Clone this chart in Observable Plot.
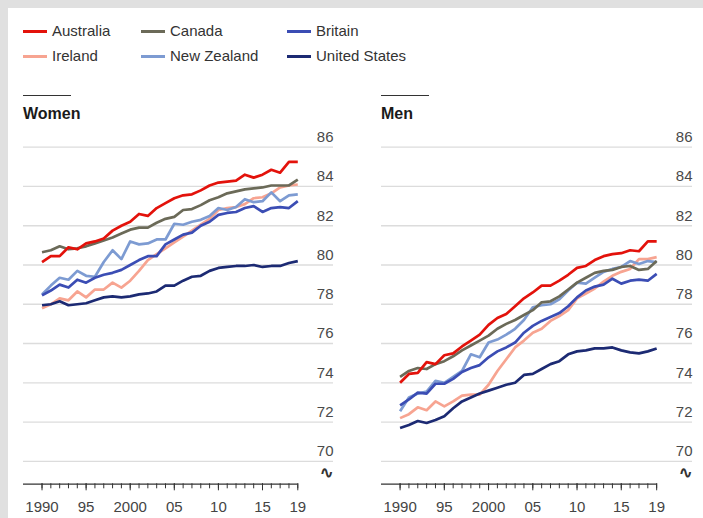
<!DOCTYPE html>
<html><head><meta charset="utf-8">
<script src="https://cdn.jsdelivr.net/npm/d3@7"></script>
<script src="https://cdn.jsdelivr.net/npm/@observablehq/plot@0.6"></script>
<style>
html,body{margin:0;padding:0;}
body{background:#e0e0e0;width:703px;height:518px;overflow:hidden;position:relative;font-family:"Liberation Sans",Arial,sans-serif;}
#card{position:absolute;left:8px;top:8px;width:695px;height:510px;background:#fff;}
.leg{position:absolute;font-size:15px;color:#333;line-height:18px;white-space:nowrap;}
.sw{position:absolute;width:24px;height:3px;}
.ttl{position:absolute;font-size:16px;font-weight:bold;color:#1a1a1a;line-height:20px;}
.bar{position:absolute;width:48px;height:0;border-top:1.6px solid #333;}
.pan{position:absolute;top:120px;}
</style>
</head><body>
<div id="card"></div>
<div id="legend"></div>
<div class="bar" style="left:23px;top:95px"></div>
<div class="ttl" style="left:23px;top:104px">Women</div>
<div class="bar" style="left:381px;top:95px"></div>
<div class="ttl" style="left:381px;top:104px">Men</div>
<div id="women" class="pan" style="left:0px"></div>
<div id="men" class="pan" style="left:358px"></div>
<script>
const years = [1990,1991,1992,1993,1994,1995,1996,1997,1998,1999,2000,2001,2002,2003,2004,2005,2006,2007,2008,2009,2010,2011,2012,2013,2014,2015,2016,2017,2018,2019];
const countries = ["Australia","Canada","Britain","Ireland","New Zealand","United States"];
const colors = ["#e3120b","#6b6a58","#3b4db4","#f7a491","#7d9bd2","#1c2a73"];
const yTicks = [70,72,74,76,78,80,82,84,86];
const majorTicks = [1990,1995,2000,2005,2010,2015,2019];
const majorLabels = ["1990","95","2000","05","10","15","19"];

// Women
const ausW = [80.15,80.45,80.45,80.9,80.8,81.1,81.2,81.35,81.75,82.0,82.2,82.6,82.5,82.9,83.15,83.4,83.55,83.6,83.8,84.05,84.2,84.25,84.3,84.6,84.45,84.6,84.85,84.7,85.25,85.25];
const canW = [80.65,80.75,80.95,80.8,80.85,80.95,81.1,81.25,81.4,81.6,81.8,81.9,81.9,82.15,82.35,82.45,82.8,82.85,83.05,83.3,83.45,83.65,83.75,83.85,83.9,83.95,84.05,84.05,84.05,84.35];
const gbrW = [78.45,78.7,79.0,78.85,79.25,79.1,79.35,79.5,79.6,79.75,80.0,80.25,80.45,80.45,81.05,81.3,81.55,81.65,82.0,82.2,82.55,82.65,82.7,82.9,83.0,82.7,82.9,82.95,82.9,83.25];
const irlW = [77.8,78.0,78.3,78.2,78.65,78.35,78.75,78.75,79.1,78.85,79.2,79.7,80.25,80.55,80.85,81.15,81.45,81.75,82.05,82.35,82.8,82.9,82.95,83.1,83.4,83.45,83.65,83.95,84.05,84.1];
const nzlW = [78.5,78.95,79.35,79.25,79.7,79.45,79.4,80.15,80.75,80.3,81.2,81.05,81.1,81.3,81.3,82.1,82.05,82.2,82.3,82.5,82.9,82.8,82.95,83.35,83.2,83.25,83.7,83.25,83.55,83.6];
const usaW = [77.95,78.0,78.15,77.95,78.0,78.05,78.2,78.35,78.4,78.35,78.4,78.5,78.55,78.65,78.95,78.95,79.2,79.4,79.45,79.7,79.85,79.9,79.95,79.95,80.0,79.9,79.95,79.95,80.1,80.2];
// Men
const ausM = [74.0,74.45,74.5,75.05,74.95,75.4,75.5,75.85,76.15,76.45,76.95,77.3,77.5,77.9,78.3,78.6,78.95,78.95,79.2,79.5,79.85,79.95,80.25,80.45,80.55,80.6,80.75,80.7,81.2,81.2];
const canM = [74.3,74.6,74.75,74.7,74.95,75.1,75.35,75.65,75.9,76.15,76.4,76.75,77.0,77.2,77.45,77.7,78.1,78.15,78.4,78.75,79.1,79.35,79.6,79.7,79.75,79.9,79.95,79.75,79.8,80.2];
const gbrM = [72.85,73.15,73.5,73.45,73.95,73.95,74.2,74.55,74.75,74.9,75.3,75.6,75.8,76.05,76.55,76.9,77.15,77.35,77.55,77.9,78.35,78.7,78.9,79.0,79.3,79.05,79.2,79.25,79.2,79.55];
const irlM = [72.2,72.4,72.75,72.6,73.05,72.8,73.05,73.35,73.4,73.4,73.9,74.6,75.2,75.8,76.15,76.55,76.75,77.15,77.4,77.7,78.3,78.55,78.8,79.15,79.45,79.65,79.8,80.3,80.3,80.4];
const nzlM = [72.55,73.25,73.45,73.55,74.1,74.0,74.3,74.6,75.45,75.3,76.05,76.2,76.45,76.75,77.2,77.85,77.95,78.0,78.25,78.7,79.1,79.05,79.35,79.65,79.8,79.9,80.2,80.05,80.2,80.15];
const usaM = [71.7,71.85,72.05,71.95,72.1,72.3,72.7,73.05,73.25,73.45,73.6,73.75,73.9,74.0,74.4,74.45,74.7,74.95,75.1,75.45,75.6,75.65,75.75,75.75,75.8,75.65,75.55,75.5,75.6,75.75];

const X_DOMAIN = [1987.9, 2023.05];
const AXIS_BASE = 68.84;
const BREAK_Y = 69.43;
const drawOrder = ["Ireland","New Zealand","Britain","Canada","Australia","United States"];

// Legend
const legPos = [[23,22],[141,22],[287,22],[23,47],[141,47],[287,47]];
const leg = document.getElementById("legend");
countries.forEach((c,i)=>{
  const [x,y] = legPos[i];
  const sw = document.createElement("div"); sw.className="sw";
  sw.style.left = x+"px"; sw.style.top = (y+7.5)+"px"; sw.style.background = colors[i];
  const t = document.createElement("div"); t.className="leg";
  t.style.left = (x+29)+"px"; t.style.top = y+"px"; t.textContent = c;
  leg.appendChild(sw); leg.appendChild(t);
});

function panel(series, width, marginRight) {
  const data = [];
  drawOrder.forEach(name => {
    const vals = series[name];
    years.forEach((yr,i)=>data.push({country:name, year:yr, value:vals[i]}));
  });
  return Plot.plot({
    width, height: 398,
    marginLeft: 23, marginRight, marginTop: 0, marginBottom: 34.7,
    x: {domain: X_DOMAIN, label: null},
    y: {domain: [70,86], range: [340.8, 26.7], axis: null},
    color: {domain: countries, range: colors},
    style: {fontFamily: '"Liberation Sans",Arial,sans-serif', fontSize: "15px", color: "#333", background: "transparent", overflow: "visible"},
    marks: [
      Plot.ruleY(yTicks, {stroke: "#dcdcdc", strokeWidth: 1.3}),
      Plot.text(yTicks, {y: d=>d, frameAnchor: "right", textAnchor: "end", dy: -10, text: d=>String(d), fontSize: 15, fill: "#4a4a4a"}),
      Plot.text([BREAK_Y], {y: d=>d, frameAnchor: "right", textAnchor: "end", dx: -1, text: ()=>"∿", fontSize: 16, fontWeight: "bold", fill: "#333"}),
      Plot.ruleY([AXIS_BASE], {x1: X_DOMAIN[0], x2: 2019, stroke: "#333", strokeWidth: 1.2}),
      Plot.axisX({ticks: years, tickSize: 5, tickFormat: ()=>"", stroke: "#333"}),
      Plot.axisX({ticks: majorTicks, tickSize: 7, tickPadding: 11, tickFormat: d => majorLabels[majorTicks.indexOf(d)], fontSize: 15, fill: "#444", stroke: "#333"}),
      Plot.line(data, {x: "year", y: "value", z: "country", stroke: "country", strokeWidth: 2.7, strokeLinejoin: "round", strokeLinecap: "butt"})
    ]
  });
}

document.getElementById("women").appendChild(panel({"Australia":ausW,"Canada":canW,"Britain":gbrW,"Ireland":irlW,"New Zealand":nzlW,"United States":usaW}, 350, 17));
document.getElementById("men").appendChild(panel({"Australia":ausM,"Canada":canM,"Britain":gbrM,"Ireland":irlM,"New Zealand":nzlM,"United States":usaM}, 345, 11));
</script>
</body></html>
